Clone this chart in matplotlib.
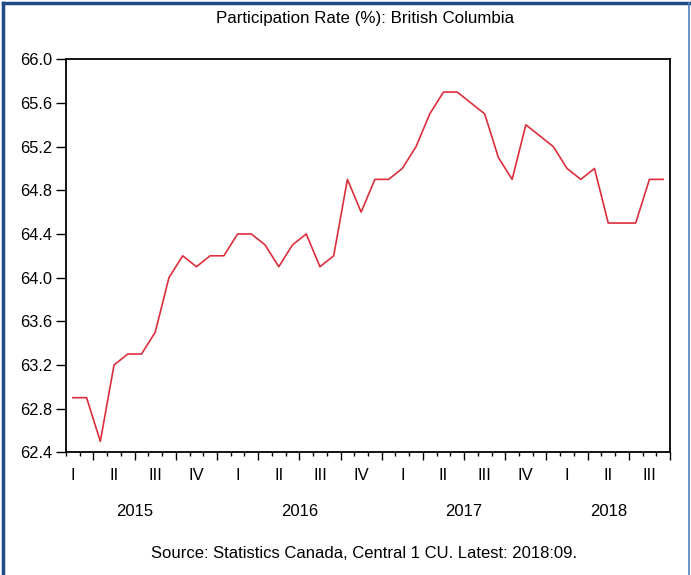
import numpy as np
import matplotlib
matplotlib.use('Agg')
import matplotlib.pyplot as plt
from matplotlib.lines import Line2D

plt.rcParams['font.family'] = ['Liberation Sans', 'DejaVu Sans']

# 月度数据：2015:02 - 2018:09
rate = [62.9, 62.9, 62.5, 63.2, 63.3, 63.3, 63.5, 64.0, 64.2, 64.1, 64.2,
        64.2, 64.4, 64.4, 64.3, 64.1, 64.3, 64.4, 64.1, 64.2, 64.9, 64.6, 64.9,
        64.9, 65.0, 65.2, 65.5, 65.7, 65.7, 65.6, 65.5, 65.1, 64.9, 65.4, 65.3,
        65.2, 65.0, 64.9, 65.0, 64.5, 64.5, 64.5, 64.9, 64.9]
quarter_labels = ['I', 'II', 'III', 'IV'] * 3 + ['I', 'II', 'III']
years = ['2015', '2016', '2017', '2018']
year_pos = [4.5, 16.5, 28.5, 39.0]   # 年份标签位置（按月序号）
y_ticks = [62.4, 62.8, 63.2, 63.6, 64.0, 64.4, 64.8, 65.2, 65.6, 66.0]

x = np.arange(len(rate))

fig = plt.figure(figsize=(6.91, 5.75), dpi=100)
ax = fig.add_axes([66 / 691, 1 - 452.3 / 575, 604 / 691, 393 / 575])

ax.plot(x, rate, color='#DC2E3C', lw=1.2)

ax.set_xlim(-0.5, len(rate) - 0.5)
ax.set_ylim(62.4, 66.0)
ax.set_yticks(y_ticks)
ax.set_yticklabels([f'{v:.1f}' for v in y_ticks], fontsize=11.8)

# 刻度：每月一个短刻度，每季度一个长刻度
ax.set_xticks(np.arange(1.5, len(rate), 3))
ax.set_xticks(np.arange(-0.5, len(rate), 1), minor=True)
ax.set_xticklabels([])
ax.tick_params(axis='x', which='major', direction='out', length=6, width=1)
ax.tick_params(axis='x', which='minor', direction='out', length=3, width=1)
ax.tick_params(axis='y', direction='out', length=7, width=1, pad=3)
for s in ax.spines.values():
    s.set_linewidth(1.3)

# 季度标签（放在每季度中间月份）
tr = ax.get_xaxis_transform()
for i, q in enumerate(quarter_labels):
    ax.text(i * 3, -0.058, q, transform=tr, ha='center', va='center', fontsize=12)
for p, yr in zip(year_pos, years):
    ax.text(p, -0.15, yr, transform=tr, ha='center', va='center', fontsize=12)

fig.text(0.528, 1 - 18 / 575, 'Participation Rate (%): British Columbia',
         ha='center', va='center', fontsize=12.2)
fig.text(0.527, 1 - 554 / 575, 'Source: Statistics Canada, Central 1 CU. Latest: 2018:09.',
         ha='center', va='center', fontsize=12)

# 外边框（左、上深蓝，右浅蓝）
fig.add_artist(Line2D([3 / 691, 3 / 691], [0, 1 - 3 / 575], color='#1F4B89', lw=2.5,
                      transform=fig.transFigure))
fig.add_artist(Line2D([3 / 691, 1], [1 - 3 / 575, 1 - 3 / 575], color='#1F4B89', lw=2.5,
                      transform=fig.transFigure))
fig.add_artist(Line2D([689 / 691, 689 / 691], [0, 1 - 3 / 575], color='#4F7FBC', lw=1.2,
                      transform=fig.transFigure))

fig.savefig('out.png', dpi=100)
